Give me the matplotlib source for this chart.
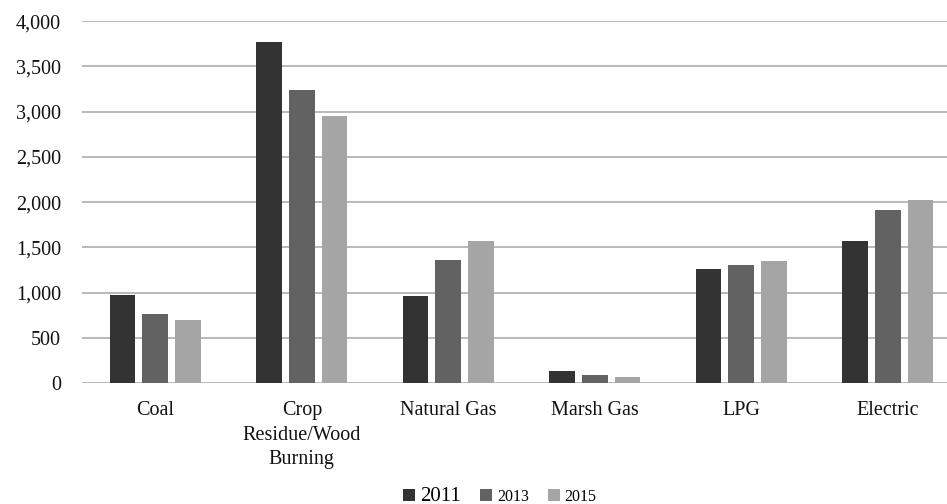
import numpy as np
import matplotlib
matplotlib.use('Agg')
import matplotlib.pyplot as plt

# data
categories = ['Coal', 'Crop\nResidue/Wood\nBurning', 'Natural Gas', 'Marsh Gas', 'LPG', 'Electric']
years = ['2011', '2013', '2015']
vals_2011 = [972, 3775, 961, 133, 1256, 1566]
vals_2013 = [766, 3241, 1359, 88, 1300, 1912]
vals_2015 = [700, 2957, 1573, 63, 1345, 2019]
y_ticks = [0, 500, 1000, 1500, 2000, 2500, 3000, 3500, 4000]

colors = ['#333333', '#626262', '#a5a5a5']
plt.rcParams['font.family'] = ['Liberation Serif', 'DejaVu Serif']

fig = plt.figure(figsize=(9.47, 5.04), dpi=100)
ax = fig.add_axes([0.0866, 0.240, 0.9282, 0.718])

x = np.arange(len(categories))
pitch = 0.223
width = 0.175
series = [vals_2011, vals_2013, vals_2015]
for i, (yr, vals) in enumerate(zip(years, series)):
	ax.bar(x + (i - 1) * pitch, vals, width, color=colors[i], label=yr, zorder=3)

ax.set_xlim(-0.5, len(categories) - 0.5)
ax.set_ylim(0, 4000)
ax.set_yticks(y_ticks)
ax.set_yticklabels(['{:,}'.format(v) for v in y_ticks], fontsize=14.5)
ax.set_xticks(x)
ax.set_xticklabels(categories, fontsize=14.5, linespacing=1.4)
ax.tick_params(axis='both', length=0, colors='#111111')
ax.tick_params(axis='y', pad=15)
ax.tick_params(axis='x', pad=13)
for s in ax.spines.values():
	s.set_visible(False)
ax.grid(True, axis='y', color='#b3b3b3', linewidth=1.3, zorder=0)
ax.set_axisbelow(True)

leg = fig.legend(loc='lower center', bbox_to_anchor=(0.528, -0.032), ncol=3, frameon=False,
	handlelength=0.75, handleheight=0.75, handletextpad=0.3, columnspacing=1.2, fontsize=11.5)
leg.get_texts()[0].set_fontsize(15)

fig.savefig('out.png', dpi=100)
